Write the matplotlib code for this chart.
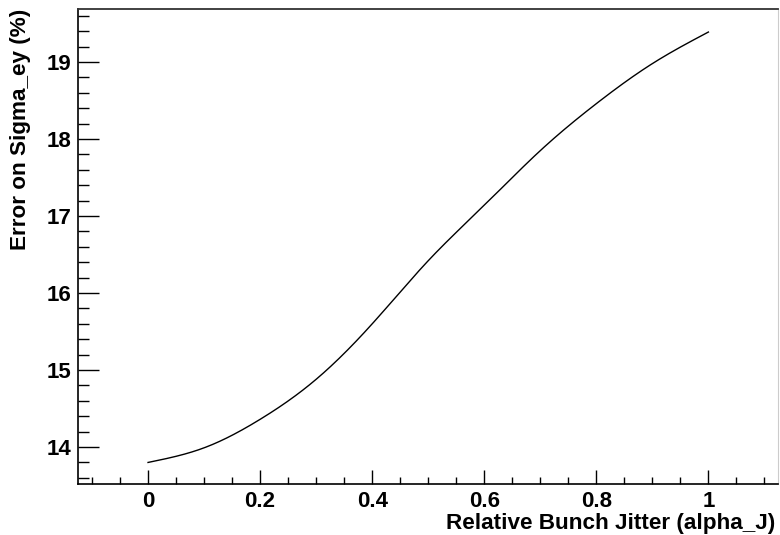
import numpy as np
import matplotlib
matplotlib.use('Agg')
import matplotlib.pyplot as plt
from matplotlib.ticker import MultipleLocator

# relative bunch jitter vs error on sigma_ey
alpha_j = [0.0, 0.1, 0.2, 0.3, 0.4, 0.5, 0.6, 0.7, 0.8, 0.9, 1.0]
err_sigma = [13.80, 13.99, 14.36, 14.88, 15.60, 16.42, 17.14, 17.85, 18.46, 18.98, 19.39]


def smooth_curve(x, y, n=400):
    # natural cubic spline, like the smooth "C" draw option
    x = np.asarray(x, float)
    y = np.asarray(y, float)
    h = np.diff(x)
    k = len(x)
    A = np.zeros((k, k))
    b = np.zeros(k)
    A[0, 0] = A[-1, -1] = 1
    for i in range(1, k - 1):
        A[i, i - 1] = h[i - 1]
        A[i, i] = 2 * (h[i - 1] + h[i])
        A[i, i + 1] = h[i]
        b[i] = 6 * ((y[i + 1] - y[i]) / h[i] - (y[i] - y[i - 1]) / h[i - 1])
    m = np.linalg.solve(A, b)
    xs = np.linspace(x[0], x[-1], n)
    idx = np.clip(np.searchsorted(x, xs) - 1, 0, k - 2)
    t = xs - x[idx]
    hi = h[idx]
    a = (x[idx + 1] - xs)
    ys = (m[idx] * a ** 3 + m[idx + 1] * t ** 3) / (6 * hi) \
        + (y[idx] / hi - m[idx] * hi / 6) * a + (y[idx + 1] / hi - m[idx + 1] * hi / 6) * t
    return xs, ys


plt.rcParams['font.family'] = 'Liberation Sans'
plt.rcParams['font.weight'] = 'bold'

fig = plt.figure(figsize=(7.8, 5.35), dpi=100)
ax = fig.add_axes([0.1, 0.0953, 0.898, 0.888])

xs, ys = smooth_curve(alpha_j, err_sigma)
ax.plot(xs, ys, color='black', linewidth=1.0)

ax.set_xlim(-0.125, 1.125)
ax.set_ylim(13.52, 19.69)

ax.xaxis.set_minor_locator(MultipleLocator(0.05))
ax.yaxis.set_major_locator(MultipleLocator(1))
ax.yaxis.set_minor_locator(MultipleLocator(0.2))

ax.set_xticks([0, 0.2, 0.4, 0.6, 0.8, 1.0])
ax.set_xticklabels(['0', '0.2', '0.4', '0.6', '0.8', '1'])

ax.tick_params(axis='x', which='major', direction='in', length=10, width=1, pad=5, labelsize=16)
ax.tick_params(axis='x', which='minor', direction='in', length=5, width=1)
ax.tick_params(axis='y', which='major', direction='in', length=15, width=1, pad=5, labelsize=16)
ax.tick_params(axis='y', which='minor', direction='in', length=7.7, width=1)
ax.tick_params(top=False, right=False, which='both')

for s in ['left', 'bottom']:
    ax.spines[s].set_linewidth(1.2)
ax.spines['top'].set_linewidth(1.3)
ax.spines['top'].set_color('#333333')
ax.spines['right'].set_color('#cccccc')
ax.spines['right'].set_linewidth(0.8)

ax.set_xlabel('Relative Bunch Jitter (alpha_J)', fontsize=16.2, fontweight='bold')
ax.xaxis.set_label_coords(0.995, -0.061)
ax.xaxis.label.set_horizontalalignment('right')
ax.set_ylabel('Error on Sigma_ey (%)', fontsize=16.2, fontweight='bold')
ax.yaxis.set_label_coords(-0.067, 1.0)
ax.yaxis.label.set_horizontalalignment('right')

fig.savefig('out.png', dpi=100)
